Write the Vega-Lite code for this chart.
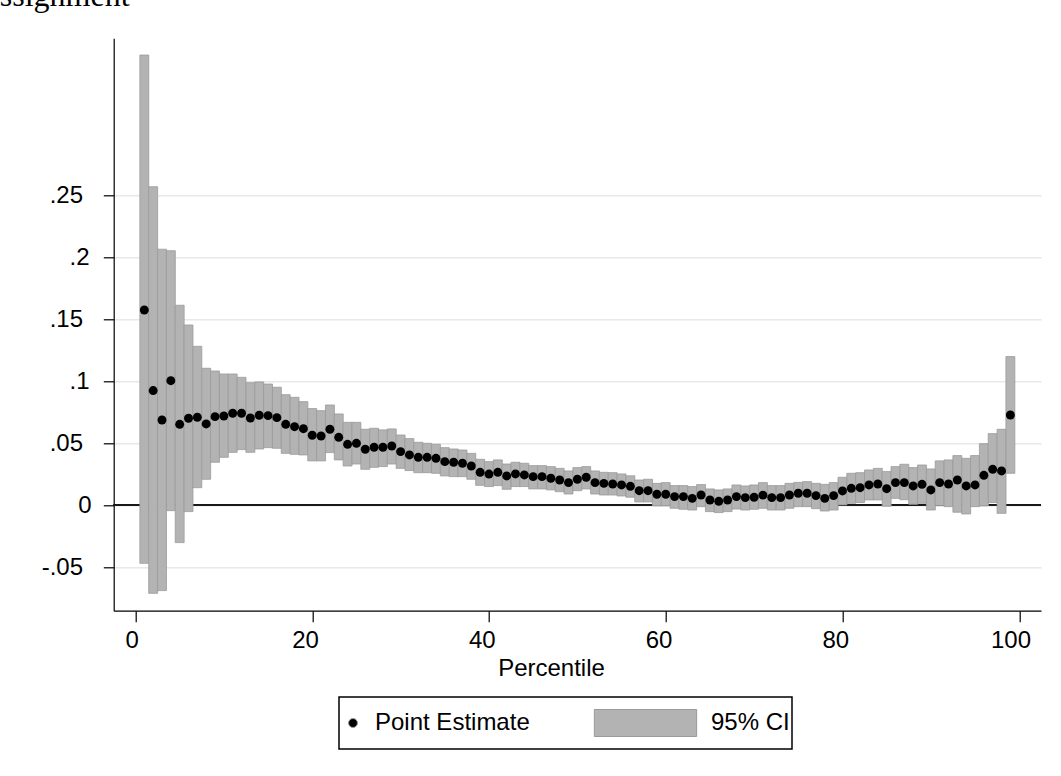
{
  "$schema": "https://vega.github.io/schema/vega-lite/v6.json",
  "autosize": {"type": "none"},
  "width": 927.3,
  "height": 572.4,
  "padding": {"left": 113.7, "top": 38.3, "right": 20, "bottom": 165.3},
  "background": "white",
  "title": {
    "text": "Assignment",
    "font": "Liberation Serif",
    "fontSize": 32,
    "fontWeight": "normal",
    "color": "black",
    "anchor": "start",
    "frame": "group",
    "orient": "top",
    "baseline": "alphabetic",
    "offset": 0,
    "dx": -137
  },
  "config": {
    "font": "Liberation Sans",
    "view": {"stroke": null},
    "axis": {
      "domainColor": "black",
      "domainWidth": 1.2,
      "tickColor": "black",
      "tickWidth": 1.2,
      "labelColor": "black",
      "labelFont": "Liberation Sans",
      "labelFontSize": 24,
      "titleFont": "Liberation Sans",
      "titleFontSize": 24,
      "titleFontWeight": "normal",
      "titleColor": "black"
    },
    "legend": {
      "title": null,
      "orient": "none",
      "legendX": 225.3,
      "legendY": 658.7,
      "direction": "horizontal",
      "padding": 2,
      "clipHeight": 48,
      "symbolOffset": 0,
      "symbolStrokeWidth": 1,
      "symbolOpacity": 1,
      "labelOffset": 10,
      "columnPadding": 60,
      "labelFont": "Liberation Sans",
      "labelFontSize": 24,
      "labelColor": "black",
      "labelLimit": 400,
      "strokeColor": "black",
      "strokeWidth": 1.5,
      "fillColor": "white"
    }
  },
  "data": {
    "values": [
      {"p": 1, "est": 0.1575, "lo": -0.0468, "hi": 0.3631},
      {"p": 2, "est": 0.0925, "lo": -0.0710, "hi": 0.2569},
      {"p": 3, "est": 0.0688, "lo": -0.0688, "hi": 0.2065},
      {"p": 4, "est": 0.1005, "lo": -0.0043, "hi": 0.2053},
      {"p": 5, "est": 0.0653, "lo": -0.0301, "hi": 0.1613},
      {"p": 6, "est": 0.0702, "lo": -0.0051, "hi": 0.1454},
      {"p": 7, "est": 0.0710, "lo": 0.0142, "hi": 0.1282},
      {"p": 8, "est": 0.0656, "lo": 0.0210, "hi": 0.1105},
      {"p": 9, "est": 0.0715, "lo": 0.0347, "hi": 0.1083},
      {"p": 10, "est": 0.0720, "lo": 0.0387, "hi": 0.1059},
      {"p": 11, "est": 0.0742, "lo": 0.0427, "hi": 0.1059},
      {"p": 12, "est": 0.0742, "lo": 0.0449, "hi": 0.1032},
      {"p": 13, "est": 0.0704, "lo": 0.0427, "hi": 0.0989},
      {"p": 14, "est": 0.0726, "lo": 0.0454, "hi": 0.0995},
      {"p": 15, "est": 0.0723, "lo": 0.0465, "hi": 0.0978},
      {"p": 16, "est": 0.0707, "lo": 0.0460, "hi": 0.0952},
      {"p": 17, "est": 0.0653, "lo": 0.0419, "hi": 0.0892},
      {"p": 18, "est": 0.0634, "lo": 0.0411, "hi": 0.0871},
      {"p": 19, "est": 0.0618, "lo": 0.0406, "hi": 0.0836},
      {"p": 20, "est": 0.0565, "lo": 0.0358, "hi": 0.0780},
      {"p": 21, "est": 0.0559, "lo": 0.0358, "hi": 0.0763},
      {"p": 22, "est": 0.0613, "lo": 0.0425, "hi": 0.0809},
      {"p": 23, "est": 0.0548, "lo": 0.0366, "hi": 0.0737},
      {"p": 24, "est": 0.0492, "lo": 0.0317, "hi": 0.0669},
      {"p": 25, "est": 0.0500, "lo": 0.0333, "hi": 0.0669},
      {"p": 26, "est": 0.0452, "lo": 0.0290, "hi": 0.0613},
      {"p": 27, "est": 0.0468, "lo": 0.0306, "hi": 0.0621},
      {"p": 28, "est": 0.0468, "lo": 0.0312, "hi": 0.0608},
      {"p": 29, "est": 0.0478, "lo": 0.0333, "hi": 0.0616},
      {"p": 30, "est": 0.0433, "lo": 0.0298, "hi": 0.0567},
      {"p": 31, "est": 0.0406, "lo": 0.0280, "hi": 0.0538},
      {"p": 32, "est": 0.0387, "lo": 0.0263, "hi": 0.0508},
      {"p": 33, "est": 0.0387, "lo": 0.0263, "hi": 0.0500},
      {"p": 34, "est": 0.0379, "lo": 0.0258, "hi": 0.0492},
      {"p": 35, "est": 0.0352, "lo": 0.0237, "hi": 0.0465},
      {"p": 36, "est": 0.0347, "lo": 0.0231, "hi": 0.0454},
      {"p": 37, "est": 0.0339, "lo": 0.0231, "hi": 0.0446},
      {"p": 38, "est": 0.0317, "lo": 0.0210, "hi": 0.0419},
      {"p": 39, "est": 0.0266, "lo": 0.0161, "hi": 0.0371},
      {"p": 40, "est": 0.0252, "lo": 0.0151, "hi": 0.0352},
      {"p": 41, "est": 0.0266, "lo": 0.0159, "hi": 0.0366},
      {"p": 42, "est": 0.0237, "lo": 0.0129, "hi": 0.0333},
      {"p": 43, "est": 0.0253, "lo": 0.0151, "hi": 0.0347},
      {"p": 44, "est": 0.0245, "lo": 0.0151, "hi": 0.0339},
      {"p": 45, "est": 0.0231, "lo": 0.0132, "hi": 0.0320},
      {"p": 46, "est": 0.0231, "lo": 0.0132, "hi": 0.0320},
      {"p": 47, "est": 0.0218, "lo": 0.0124, "hi": 0.0312},
      {"p": 48, "est": 0.0204, "lo": 0.0110, "hi": 0.0298},
      {"p": 49, "est": 0.0183, "lo": 0.0091, "hi": 0.0277},
      {"p": 50, "est": 0.0210, "lo": 0.0118, "hi": 0.0304},
      {"p": 51, "est": 0.0226, "lo": 0.0132, "hi": 0.0312},
      {"p": 52, "est": 0.0183, "lo": 0.0091, "hi": 0.0277},
      {"p": 53, "est": 0.0177, "lo": 0.0083, "hi": 0.0266},
      {"p": 54, "est": 0.0172, "lo": 0.0083, "hi": 0.0263},
      {"p": 55, "est": 0.0164, "lo": 0.0075, "hi": 0.0253},
      {"p": 56, "est": 0.0153, "lo": 0.0065, "hi": 0.0238},
      {"p": 57, "est": 0.0118, "lo": 0.0027, "hi": 0.0204},
      {"p": 58, "est": 0.0118, "lo": 0.0027, "hi": 0.0210},
      {"p": 59, "est": 0.0089, "lo": -0.0005, "hi": 0.0177},
      {"p": 60, "est": 0.0089, "lo": -0.0005, "hi": 0.0183},
      {"p": 61, "est": 0.0070, "lo": -0.0024, "hi": 0.0159},
      {"p": 62, "est": 0.0070, "lo": -0.0032, "hi": 0.0159},
      {"p": 63, "est": 0.0056, "lo": -0.0038, "hi": 0.0151},
      {"p": 64, "est": 0.0083, "lo": -0.0011, "hi": 0.0167},
      {"p": 65, "est": 0.0043, "lo": -0.0051, "hi": 0.0132},
      {"p": 66, "est": 0.0032, "lo": -0.0059, "hi": 0.0124},
      {"p": 67, "est": 0.0043, "lo": -0.0051, "hi": 0.0132},
      {"p": 68, "est": 0.0070, "lo": -0.0030, "hi": 0.0164},
      {"p": 69, "est": 0.0062, "lo": -0.0038, "hi": 0.0156},
      {"p": 70, "est": 0.0065, "lo": -0.0032, "hi": 0.0164},
      {"p": 71, "est": 0.0082, "lo": -0.0024, "hi": 0.0183},
      {"p": 72, "est": 0.0062, "lo": -0.0038, "hi": 0.0159},
      {"p": 73, "est": 0.0062, "lo": -0.0038, "hi": 0.0159},
      {"p": 74, "est": 0.0083, "lo": -0.0024, "hi": 0.0177},
      {"p": 75, "est": 0.0097, "lo": -0.0011, "hi": 0.0185},
      {"p": 76, "est": 0.0097, "lo": -0.0011, "hi": 0.0191},
      {"p": 77, "est": 0.0078, "lo": -0.0027, "hi": 0.0177},
      {"p": 78, "est": 0.0056, "lo": -0.0046, "hi": 0.0169},
      {"p": 79, "est": 0.0078, "lo": -0.0038, "hi": 0.0183},
      {"p": 80, "est": 0.0116, "lo": 0.0003, "hi": 0.0226},
      {"p": 81, "est": 0.0137, "lo": 0.0016, "hi": 0.0258},
      {"p": 82, "est": 0.0142, "lo": 0.0022, "hi": 0.0263},
      {"p": 83, "est": 0.0164, "lo": 0.0043, "hi": 0.0285},
      {"p": 84, "est": 0.0172, "lo": 0.0043, "hi": 0.0298},
      {"p": 85, "est": 0.0134, "lo": -0.0008, "hi": 0.0272},
      {"p": 86, "est": 0.0183, "lo": 0.0056, "hi": 0.0312},
      {"p": 87, "est": 0.0183, "lo": 0.0045, "hi": 0.0331},
      {"p": 88, "est": 0.0156, "lo": 0.0008, "hi": 0.0304},
      {"p": 89, "est": 0.0169, "lo": 0.0016, "hi": 0.0325},
      {"p": 90, "est": 0.0124, "lo": -0.0038, "hi": 0.0293},
      {"p": 91, "est": 0.0183, "lo": -0.0003, "hi": 0.0358},
      {"p": 92, "est": 0.0172, "lo": -0.0011, "hi": 0.0366},
      {"p": 93, "est": 0.0204, "lo": -0.0056, "hi": 0.0401},
      {"p": 94, "est": 0.0156, "lo": -0.0070, "hi": 0.0379},
      {"p": 95, "est": 0.0164, "lo": -0.0011, "hi": 0.0401},
      {"p": 96, "est": 0.0242, "lo": -0.0005, "hi": 0.0497},
      {"p": 97, "est": 0.0290, "lo": 0.0022, "hi": 0.0578},
      {"p": 98, "est": 0.0277, "lo": -0.0065, "hi": 0.0613},
      {"p": 99, "est": 0.0728, "lo": 0.0258, "hi": 0.1199}
    ]
  },
  "layer": [
    {
      "mark": {"type": "rule", "color": "#1a1a1a", "strokeWidth": 1.2},
      "encoding": {
        "y": {
          "datum": 0,
          "type": "quantitative",
          "scale": {"domain": [-0.085, 0.3766], "nice": false, "zero": false}
        }
      }
    },
    {
      "mark": {"type": "bar", "width": 8.93, "stroke": "#9a9a9a", "strokeWidth": 0.8, "opacity": 1},
      "encoding": {
        "x": {
          "field": "p",
          "type": "quantitative",
          "scale": {"domain": [-1.9, 101.9], "nice": false, "zero": false},
          "axis": {
            "values": [0, 20, 40, 60, 80, 100],
            "grid": false,
            "tickSize": 11,
            "labelBaseline": "alphabetic",
            "labelPadding": 25.5,
            "labelOffset": {"condition": [{"test": "datum.value == 0", "value": -3.7}, {"test": "datum.value == 100", "value": -8.7}], "value": -7.2},
            "title": "Percentile",
            "titleX": 437.3,
            "titleY": 64.8,
            "titleAlign": "center",
            "titleBaseline": "alphabetic",
            "titleAnchor": null
          }
        },
        "y": {
          "field": "lo",
          "type": "quantitative",
          "scale": {"domain": [-0.085, 0.3766], "nice": false, "zero": false},
          "axis": {
            "values": [-0.05, 0, 0.05, 0.1, 0.15, 0.2, 0.25],
            "grid": true,
            "gridColor": "#e8e8e8",
            "gridWidth": 1.6,
            "tickSize": 10.4,
            "labelAlign": "right",
            "labelBaseline": "middle",
            "labelPadding": {"condition": [{"test": "datum.value == 0", "value": 12.3}, {"test": "datum.value == 0.1 || datum.value == 0.2", "value": 14.3}], "value": 20.8},
            "labelExpr": "replace(replace(format(datum.value, '.2~f'), '0.', '.'), '\u2212', '-')",
            "title": null
          }
        },
        "y2": {"field": "hi"},
        "color": {
          "datum": "95% CI",
          "type": "nominal",
          "scale": {"domain": ["Point Estimate", "95% CI"], "range": ["#000000", "#b3b3b3"]},
          "legend": {
            "labelExpr": "datum.label == '95% CI' ? '95% CI\u00a0\u00a0\u00a0\u00a0' : datum.label"
          }
        }
      }
    },
    {
      "mark": {"type": "point", "filled": true, "opacity": 1},
      "encoding": {
        "x": {"field": "p", "type": "quantitative"},
        "y": {"field": "est", "type": "quantitative"},
        "color": {
          "datum": "Point Estimate",
          "type": "nominal",
          "legend": {
            "labelExpr": "datum.label == '95% CI' ? '95% CI\u00a0\u00a0\u00a0\u00a0' : datum.label"
          }
        },
        "shape": {
          "datum": "Point Estimate",
          "type": "nominal",
          "scale": {"domain": ["Point Estimate", "95% CI"], "range": ["circle", "M-0.93,-0.2455H0.93V0.2455H-0.93Z"]},
          "legend": {
            "labelExpr": "datum.label == '95% CI' ? '95% CI\u00a0\u00a0\u00a0\u00a0' : datum.label"
          }
        },
        "size": {
          "datum": "Point Estimate",
          "type": "nominal",
          "scale": {"type": "point", "padding": 0, "domain": ["Point Estimate", "95% CI"], "range": [80, 12100]},
          "legend": {
            "labelExpr": "datum.label == '95% CI' ? '95% CI\u00a0\u00a0\u00a0\u00a0' : datum.label"
          }
        }
      }
    }
  ]
}
